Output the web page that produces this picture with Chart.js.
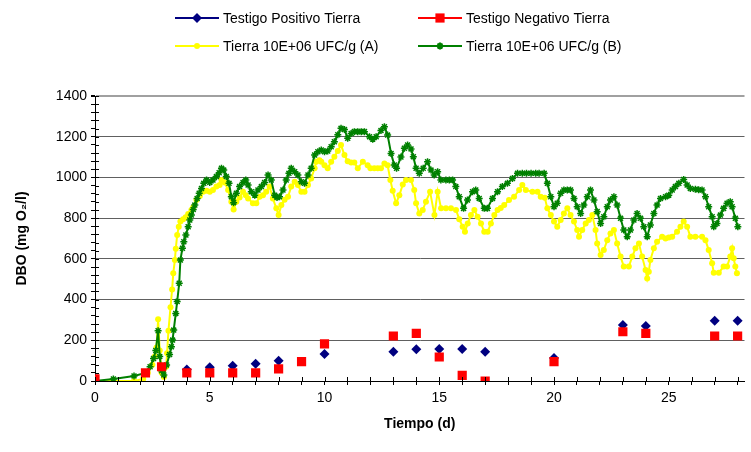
<!DOCTYPE html>
<html>
<head>
<meta charset="utf-8">
<script src="https://cdn.jsdelivr.net/npm/chart.js@4/dist/chart.umd.min.js"></script>
<style>
  html, body { margin: 0; padding: 0; background: #fff; }
</style>
</head>
<body>
<canvas id="dboChart" width="751" height="452"></canvas>
<script>
// Testigos (scatter points, days / mg O2/l)
var posDays = [0, 4, 5, 6, 7, 8, 10, 13, 14, 15, 16, 17, 20, 23, 24, 27, 28];
var posDBO  = [0, 57, 67, 75, 85, 100, 133, 144, 156, 157, 157, 144, 113, 275, 270, 296, 296];

var negDays = [0, 2.2, 2.9, 4, 5, 6, 7, 8, 9, 10, 13, 14, 15, 16, 17, 20, 23, 24, 27, 28];
var negDBO  = [10, 40, 70, 40, 40, 40, 40, 60, 95, 182, 221, 234, 118, 28, 0, 95, 242, 234, 221, 221];

// Tierra 10E+06 UFC/g (A)
var aDays = [0, 1.7, 2.1, 2.3, 2.5, 2.6, 2.68, 2.75, 2.82, 2.9, 3.0, 3.1, 3.14, 3.2, 3.29, 3.36, 3.41, 3.48, 3.52, 3.58,
  3.65, 3.72, 3.84, 3.95, 4.06, 4.2, 4.28, 4.42, 4.57, 4.71, 4.86, 5.0, 5.14, 5.29, 5.43, 5.51, 5.65, 5.8, 5.94, 6.04,
  6.16, 6.3, 6.45, 6.57, 6.67, 6.88, 7.03, 7.17, 7.32, 7.46, 7.61, 7.75, 7.9, 8.0, 8.12, 8.26, 8.41, 8.55, 8.7, 8.84,
  8.99, 9.13, 9.28, 9.42, 9.57, 9.64, 9.78, 9.86, 10.0, 10.14, 10.29, 10.43, 10.58, 10.72, 10.87, 11.01, 11.16, 11.3, 11.45, 11.67,
  11.88, 12.0, 12.17, 12.32, 12.46, 12.61, 12.75, 12.87, 12.97, 13.12, 13.26, 13.41, 13.55, 13.77, 13.91, 13.99, 14.13, 14.28, 14.42, 14.6,
  14.79, 14.93, 15.08, 15.29, 15.51, 15.73, 15.87, 16.02, 16.12, 16.24, 16.38, 16.53, 16.67, 16.82, 16.96, 17.11, 17.25, 17.4, 17.54, 17.68,
  17.83, 18.04, 18.26, 18.48, 18.62, 18.77, 19.06, 19.28, 19.42, 19.6, 19.71, 19.86, 20.0, 20.14, 20.29, 20.43, 20.58, 20.72, 20.87, 21.01,
  21.09, 21.23, 21.38, 21.52, 21.67, 21.81, 21.88, 22.03, 22.17, 22.32, 22.46, 22.61, 22.75, 22.9, 23.04, 23.26, 23.41, 23.55, 23.7, 23.84,
  23.99, 24.06, 24.13, 24.2, 24.35, 24.49, 24.71, 24.86, 25.0, 25.15, 25.36, 25.51, 25.65, 25.8, 25.94, 26.16, 26.45, 26.6, 26.74, 26.89,
  26.96, 27.18, 27.39, 27.54, 27.68, 27.76, 27.83, 27.9, 27.97];
var aDBO = [0, 0, 10, 40, 80, 120, 164, 303, 150, 40, 20, 70, 136, 247, 362, 450, 529, 594, 650, 717,
  758, 783, 794, 805, 820, 840, 853, 889, 909, 930, 935, 930, 938, 955, 963, 987, 975, 938, 881, 843,
  881, 902, 930, 913, 897, 873, 873, 905, 913, 930, 955, 897, 848, 815, 864, 890, 905, 955, 979, 963,
  930, 930, 963, 995, 1045, 1077, 1085, 1077, 1060, 1045, 1077, 1102, 1130, 1159, 1110, 1080, 1073, 1073, 1045, 1077,
  1060, 1045, 1045, 1045, 1045, 1069, 1060, 987, 935, 873, 912, 965, 987, 987, 938, 873, 823, 840, 881, 930,
  815, 930, 848, 848, 848, 840, 795, 758, 733, 774, 815, 840, 807, 774, 733, 733, 774, 815, 840, 850,
  864, 889, 905, 938, 963, 938, 930, 930, 905, 900, 848, 815, 783, 758, 791, 823, 848, 815, 783, 742,
  709, 742, 774, 791, 815, 742, 676, 619, 643, 692, 725, 742, 676, 611, 562, 562, 611, 652, 676, 611,
  545, 504, 537, 594, 652, 684, 709, 700, 705, 709, 733, 758, 783, 758, 709, 709, 709, 692, 643, 578,
  532, 532, 562, 562, 611, 652, 603, 562, 529];

// Tierra 10E+06 UFC/g (B)
var bDays = [0, 0.8, 1.7, 2.2, 2.4, 2.55, 2.65, 2.75, 2.82, 2.9, 3.0, 3.12, 3.25, 3.33, 3.38, 3.43, 3.52, 3.58, 3.67, 3.72,
  3.81, 3.87, 3.96, 4.06, 4.13, 4.2, 4.28, 4.35, 4.45, 4.54, 4.64, 4.74, 4.86, 5.0, 5.14, 5.29, 5.41, 5.51, 5.61, 5.72,
  5.84, 5.94, 6.04, 6.16, 6.3, 6.45, 6.57, 6.67, 6.81, 6.96, 7.1, 7.25, 7.39, 7.54, 7.68, 7.83, 7.93, 8.04, 8.19, 8.33,
  8.45, 8.55, 8.7, 8.84, 8.99, 9.13, 9.28, 9.42, 9.57, 9.71, 9.86, 10.0, 10.14, 10.29, 10.43, 10.58, 10.72, 10.87, 11.01, 11.16,
  11.3, 11.45, 11.6, 11.74, 11.96, 12.1, 12.25, 12.46, 12.61, 12.75, 12.9, 13.04, 13.14, 13.33, 13.48, 13.62, 13.77, 13.87, 13.99, 14.13,
  14.3, 14.49, 14.64, 14.78, 14.93, 15.07, 15.29, 15.44, 15.58, 15.72, 15.87, 16.06, 16.23, 16.45, 16.59, 16.74, 16.96, 17.1, 17.32, 17.54,
  17.75, 17.97, 18.19, 18.41, 18.62, 18.8, 19.0, 19.2, 19.35, 19.57, 19.71, 19.86, 20.0, 20.14, 20.29, 20.43, 20.58, 20.72, 20.87, 21.01,
  21.16, 21.3, 21.45, 21.59, 21.74, 21.88, 22.03, 22.17, 22.32, 22.46, 22.61, 22.75, 22.9, 23.04, 23.19, 23.33, 23.48, 23.62, 23.77, 23.91,
  24.06, 24.2, 24.35, 24.49, 24.64, 24.86, 25.0, 25.15, 25.29, 25.44, 25.65, 25.8, 25.94, 26.16, 26.3, 26.45, 26.6, 26.74, 26.89, 26.96,
  27.1, 27.25, 27.39, 27.54, 27.68, 27.76, 27.9, 28.01];
var bDBO = [0, 10, 25, 40, 70, 110, 150, 247, 120, 50, 30, 79, 130, 168, 201, 250, 332, 390, 480, 594,
  652, 684, 717, 758, 791, 815, 843, 864, 897, 922, 946, 971, 987, 975, 987, 1004, 1023, 1045, 1036, 1004,
  971, 905, 876, 922, 955, 975, 987, 963, 930, 913, 938, 955, 975, 1012, 987, 913, 902, 905, 938, 987,
  1020, 1045, 1028, 1012, 979, 971, 1012, 1045, 1110, 1126, 1135, 1126, 1130, 1151, 1175, 1210, 1241, 1235, 1192, 1216,
  1225, 1225, 1225, 1225, 1200, 1188, 1200, 1230, 1249, 1208, 1118, 1061, 1045, 1100, 1143, 1159, 1140, 1102, 1045, 1020,
  1045, 1077, 1036, 1012, 1028, 987, 987, 987, 987, 955, 905, 848, 889, 930, 938, 897, 848, 848, 897, 930,
  955, 971, 995, 1020, 1020, 1020, 1020, 1020, 1020, 1020, 971, 905, 856, 873, 922, 938, 938, 938, 897, 856,
  823, 864, 905, 938, 889, 832, 774, 807, 856, 889, 905, 864, 799, 742, 709, 742, 791, 823, 799, 758,
  709, 766, 823, 864, 897, 905, 913, 938, 955, 971, 990, 963, 946, 942, 940, 938, 905, 856, 807, 758,
  774, 815, 848, 873, 881, 856, 799, 758];

var seriesNames = ['Testigo Positivo Tierra', 'Testigo Negativo Tierra', 'Tierra 10E+06 UFC/g (A)', 'Tierra 10E+06 UFC/g (B)'];
var yTicks = [0, 200, 400, 600, 800, 1000, 1200, 1400];
var xTicks = [0, 5, 10, 15, 20, 25];

function toPoints(days, vals) {
  return days.map(function (d, i) { return { x: d, y: vals[i] }; });
}

var FONT = 'Liberation Sans, Arial, sans-serif';

// little legend like the Excel one: line sample with the marker in the middle
var excelLegend = {
  id: 'excelLegend',
  afterDraw: function (chart) {
    var ctx = chart.ctx;
    var cols = [175, 418];
    var rows = [18, 46];
    chart.data.datasets.forEach(function (ds, i) {
      var x = cols[i % 2], y = rows[Math.floor(i / 2)];
      ctx.save();
      ctx.strokeStyle = ds.legendLine;
      ctx.lineWidth = 2;
      ctx.beginPath();
      ctx.moveTo(x, y);
      ctx.lineTo(x + 44, y);
      ctx.stroke();
      ctx.fillStyle = ds.pointBackgroundColor;
      ctx.strokeStyle = ds.pointBorderColor;
      Chart.helpers.drawPoint(ctx, {
        pointStyle: ds.pointStyle, radius: ds.pointRadius, rotation: 0, borderWidth: ds.pointBorderWidth
      }, x + 22, y);
      ctx.fillStyle = '#000';
      ctx.font = '14px ' + FONT;
      ctx.textBaseline = 'middle';
      ctx.fillText(ds.label, x + 48, y + 1);
      ctx.restore();
    });
  }
};

// Excel style ticks that cross the axis line
var crossTicks = {
  id: 'crossTicks',
  afterDatasetsDraw: function (chart) {
    var ctx = chart.ctx, xs = chart.scales.x, ys = chart.scales.y;
    ctx.save();
    ctx.strokeStyle = '#000';
    ctx.lineWidth = 1;
    ctx.beginPath();
    ys.ticks.forEach(function (t) {
      var py = Math.round(ys.getPixelForValue(t.value)) + 0.5;
      ctx.moveTo(xs.left, py);
      ctx.lineTo(xs.left + 4, py);
    });
    xs.ticks.forEach(function (t) {
      var px = Math.round(xs.getPixelForValue(t.value)) + 0.5;
      ctx.moveTo(px, ys.bottom);
      ctx.lineTo(px, ys.bottom - 4);
    });
    ctx.stroke();
    ctx.restore();
  }
};

new Chart(document.getElementById('dboChart'), {
  type: 'scatter',
  data: {
    datasets: [{
      label: seriesNames[0],
      data: toPoints(posDays, posDBO),
      showLine: false,
      pointStyle: 'rectRot',
      pointRadius: 5,
      pointBorderWidth: 0,
      pointBackgroundColor: '#000080',
      pointBorderColor: '#000080',
      legendLine: '#000080',
      order: 1
    }, {
      label: seriesNames[1],
      data: toPoints(negDays, negDBO),
      showLine: false,
      pointStyle: 'rect',
      pointRadius: 6.5,
      pointBorderWidth: 0,
      pointBackgroundColor: '#ff0000',
      pointBorderColor: '#ff0000',
      legendLine: '#ff0000',
      order: 0
    }, {
      label: seriesNames[2],
      data: toPoints(aDays, aDBO),
      showLine: true,
      borderColor: '#ffff00',
      borderWidth: 2,
      pointStyle: 'circle',
      pointRadius: 3,
      pointBorderWidth: 0,
      pointBackgroundColor: '#ffff00',
      pointBorderColor: '#ffff00',
      legendLine: '#ffff00',
      order: 3
    }, {
      label: seriesNames[3],
      data: toPoints(bDays, bDBO),
      showLine: true,
      borderColor: '#008000',
      borderWidth: 2,
      pointStyle: 'star',
      pointRadius: 3.5,
      pointBorderWidth: 1.5,
      pointBackgroundColor: '#008000',
      pointBorderColor: '#008000',
      legendLine: '#008000',
      order: 2
    }]
  },
  options: {
    responsive: false,
    animation: false,
    layout: { padding: { top: 96, right: 6, left: 0, bottom: 0 } },
    plugins: {
      legend: { display: false },
      tooltip: { enabled: false }
    },
    scales: {
      x: {
        type: 'linear',
        min: 0,
        max: 28.3,
        afterFit: function (s) { s.height = 71; },
        border: { color: '#000', width: 1 },
        grid: { drawOnChartArea: false, tickLength: 4, tickColor: '#000' },
        ticks: {
          stepSize: 1,
          includeBounds: false,
          autoSkip: false,
          maxRotation: 0,
          color: '#000',
          font: { family: FONT, size: 14 },
          padding: 5,
          callback: function (v) { return xTicks.indexOf(v) >= 0 ? String(v) : ''; }
        },
        title: {
          display: true,
          text: 'Tiempo (d)',
          color: '#000',
          font: { family: FONT, size: 14, weight: 'bold' },
          padding: { top: 0, bottom: 19 }
        }
      },
      y: {
        min: 0,
        max: 1400,
        afterFit: function (s) { s.width = 95; },
        border: { color: '#000', width: 1 },
        grid: {
          tickLength: 4,
          tickColor: '#000',
          color: function (c) {
            if (!c.tick) return 'rgba(0,0,0,0)';
            if (c.tick.value === 1400) return '#a0a0a0';
            return yTicks.indexOf(c.tick.value) > 0 ? '#606060' : 'rgba(0,0,0,0)';
          },
          lineWidth: function (c) { return c.tick && c.tick.value === 1400 ? 2 : 1; }
        },
        ticks: {
          stepSize: 40,
          autoSkip: false,
          color: '#000',
          font: { family: FONT, size: 14 },
          padding: 4,
          callback: function (v) { return yTicks.indexOf(v) >= 0 ? String(v) : ''; }
        },
        title: {
          display: true,
          text: 'DBO (mg O\u2082/l)',
          color: '#000',
          font: { family: FONT, size: 14, weight: 'bold' },
          padding: { top: 14, bottom: 0 }
        }
      }
    }
  },
  plugins: [excelLegend, crossTicks]
});
</script>
</body>
</html>
